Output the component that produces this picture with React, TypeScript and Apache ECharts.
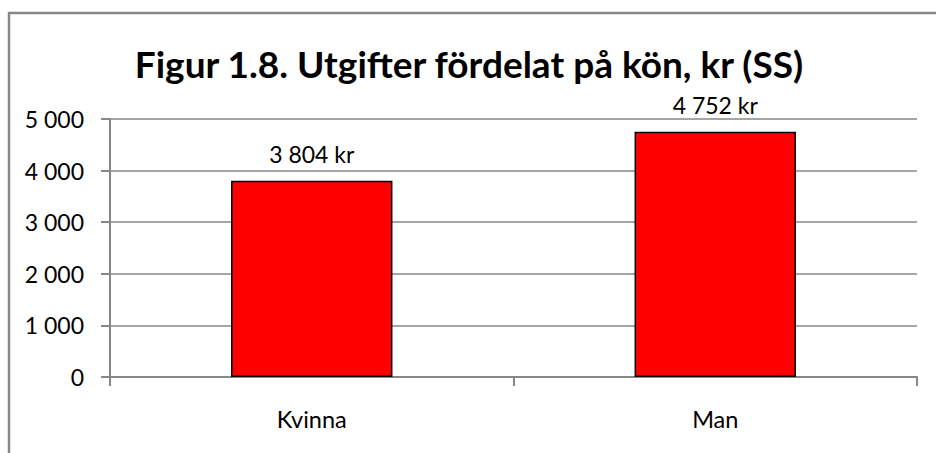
import React, { useEffect, useRef } from "react";
import * as echarts from "echarts";

const titleText = "Figur 1.8. Utgifter fördelat på kön, kr (SS)";
const categories = ["Kvinna", "Man"];
const values = [3804, 4752];
const yMin = 0;
const yMax = 5000;
const yInterval = 1000;

const FONT = "Lato, 'Liberation Sans', sans-serif";
const fmt = (v: number) => String(v).replace(/\B(?=(\d{3})+(?!\d))/g, " ");

export default function App() {
  const ref = useRef<HTMLDivElement>(null);
  useEffect(() => {
    if (!ref.current) return;
    const chart = echarts.init(ref.current, null, { renderer: "svg" });
    chart.setOption({
      animation: false,
      backgroundColor: "#ffffff",
      title: {
        text: titleText,
        left: 464,
        textAlign: "center",
        top: 40,
        textStyle: { fontFamily: FONT, fontSize: 37, fontWeight: "bold", color: "#000" },
      },
      graphic: [
        {
          type: "rect",
          shape: { x: 9, y: 13, width: 1200, height: 800 },
          style: { fill: "none", stroke: "#878787", lineWidth: 2.5 },
          silent: true,
        },
      ],
      grid: { left: 110, right: 19, top: 119, bottom: 76 },
      xAxis: {
        type: "category",
        data: categories,
        axisLine: { lineStyle: { color: "#878787", width: 2 } },
        axisTick: { show: true, length: 9, lineStyle: { color: "#878787", width: 2 } },
        axisLabel: { fontFamily: FONT, fontSize: 23.5, color: "#000", margin: 30 },
      },
      yAxis: {
        type: "value",
        min: yMin,
        max: yMax,
        interval: yInterval,
        axisLine: { show: true, lineStyle: { color: "#878787", width: 2 } },
        axisTick: { show: true, length: 9, lineStyle: { color: "#878787", width: 2 } },
        splitLine: { lineStyle: { color: "#878787", width: 1.5 } },
        axisLabel: {
          fontFamily: FONT,
          fontSize: 23,
          color: "#000",
          margin: 26,
          formatter: (v: number) => fmt(v),
        },
      },
      series: [
        {
          type: "bar",
          data: values,
          barWidth: "40%",
          itemStyle: { color: "#ff0000", borderColor: "#000", borderWidth: 1.5 },
          label: {
            show: true,
            position: "top",
            distance: 15,
            fontFamily: FONT,
            fontSize: 23,
            color: "#000",
            formatter: (p: any) => fmt(p.value) + " kr",
          },
        },
      ],
    });
    return () => chart.dispose();
  }, []);
  return (
    <div
      ref={ref}
      style={{ position: "fixed", left: 0, top: 0, width: 936, height: 453 }}
    />
  );
}
